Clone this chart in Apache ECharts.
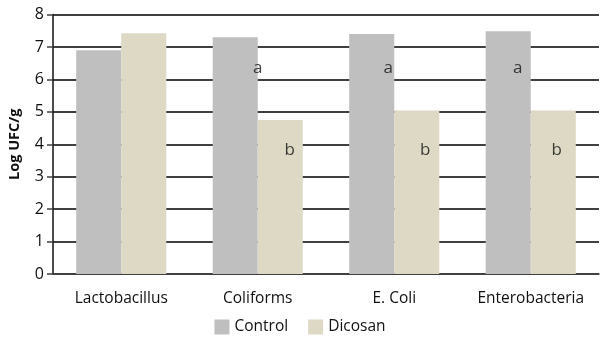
<!DOCTYPE html>
<html><head><meta charset="utf-8">
<script src="https://cdn.jsdelivr.net/npm/echarts@6/dist/echarts.min.js"></script>
<style>html,body{margin:0;padding:0;background:#fff}#c{width:600px;height:348px}</style>
</head><body><div id="c"></div>
<script>
const categories = ['Lactobacillus', 'Coliforms', 'E. Coli', 'Enterobacteria'];
const control = [6.9, 7.3, 7.4, 7.48];
const dicosan = [7.42, 4.75, 5.04, 5.04];
const yTicks = [0, 1, 2, 3, 4, 5, 6, 7, 8];
// significance letters: [category, value position, letter]
const letterA = [['Coliforms', 6.35, 'a'], ['E. Coli', 6.35, 'a'], ['Enterobacteria', 6.35, 'a']];
const letterB = [['Coliforms', 3.83, 'b'], ['E. Coli', 3.83, 'b'], ['Enterobacteria', 3.83, 'b']];
const aOffsets = [0, -6, -13];
const bOffsets = [32, 31, 26];

const font = '"Open Sans", sans-serif';
const chart = echarts.init(document.getElementById('c'));
chart.setOption({
  animation: false,
  grid: { left: 53, right: 1, top: 14.5, bottom: 74, containLabel: false, outerBoundsMode: 'none' },
  legend: {
    bottom: 8, left: 'center',
    itemWidth: 15, itemHeight: 15, itemGap: 20,
    icon: 'rect',
    textStyle: { fontFamily: font, fontSize: 15.5, color: '#111' },
    data: ['Control', 'Dicosan']
  },
  xAxis: {
    type: 'category', data: categories,
    axisLine: { lineStyle: { color: '#404040', width: 1.5 } },
    axisTick: { show: false },
    axisLabel: { interval: 0, fontFamily: font, fontSize: 15.5, color: '#111', margin: 17 }
  },
  yAxis: {
    type: 'value', min: yTicks[0], max: yTicks[yTicks.length - 1], interval: 1,
    name: 'Log UFC/g', nameLocation: 'middle', nameGap: 31, nameRotate: 90,
    nameTextStyle: { fontFamily: font, fontSize: 14.5, fontWeight: 'bold', color: '#111' },
    axisLine: { show: true, lineStyle: { color: '#111', width: 1.5 } },
    axisTick: { show: true, length: 6, lineStyle: { color: '#404040', width: 1.5 } },
    axisLabel: { fontFamily: font, fontSize: 16, color: '#111', margin: 9 },
    splitLine: { lineStyle: { color: '#404040', width: 1.8 } }
  },
  series: [
    { name: 'Control', type: 'bar', data: control, barGap: '0%', barCategoryGap: '34%',
      itemStyle: { color: '#bfbfbf' } },
    { name: 'Dicosan', type: 'bar', data: dicosan,
      itemStyle: { color: '#ddd9c4' } },
    { type: 'scatter', symbolSize: 0, silent: true,
      data: letterA.map((d, i) => ({ value: [d[0], d[1]], label: { offset: [aOffsets[i], 0] }, name: d[2] })),
      label: { show: true, position: 'inside', formatter: p => p.name, fontFamily: font, fontSize: 17, color: '#111' } },
    { type: 'scatter', symbolSize: 0, silent: true,
      data: letterB.map((d, i) => ({ value: [d[0], d[1]], label: { offset: [bOffsets[i], 0] }, name: d[2] })),
      label: { show: true, position: 'inside', formatter: p => p.name, fontFamily: font, fontSize: 17, color: '#111' } }
  ]
});
</script></body></html>
